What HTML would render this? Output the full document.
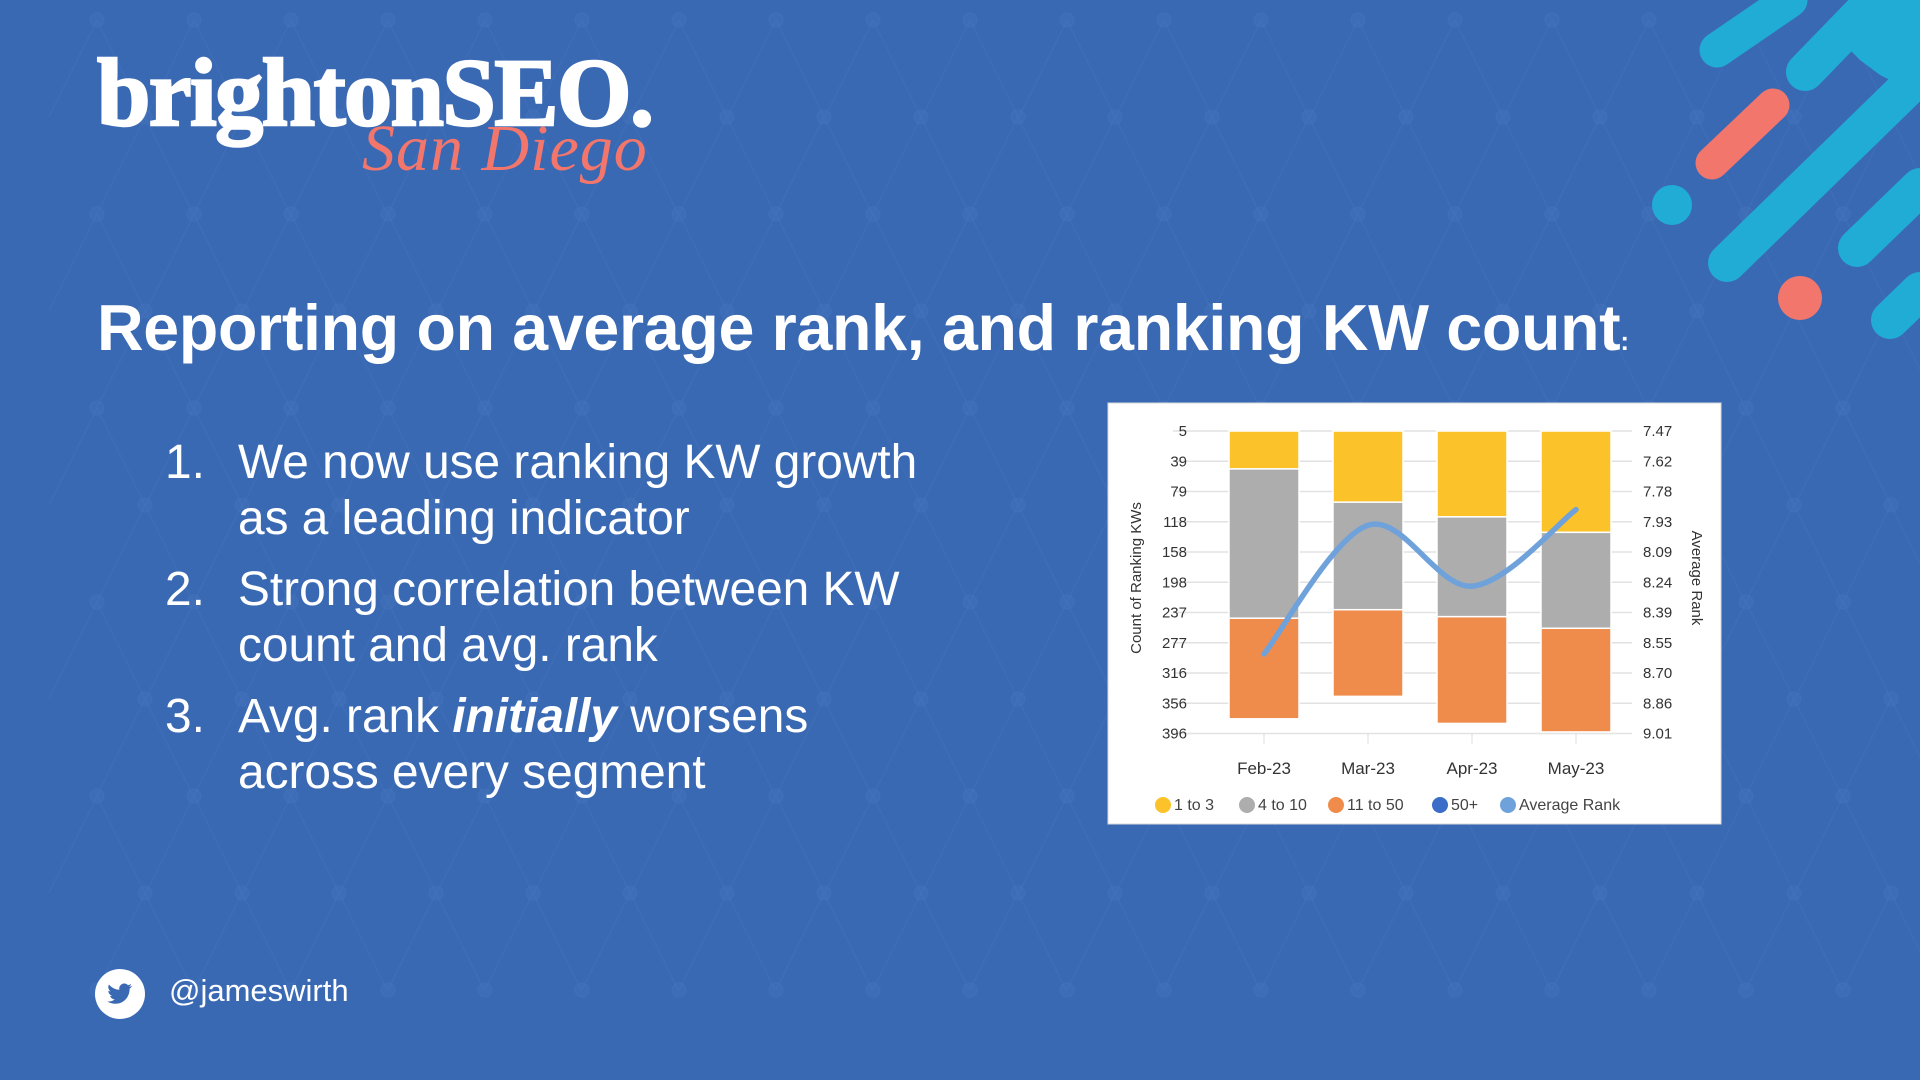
<!DOCTYPE html>
<html><head><meta charset="utf-8"><style>
html,body{margin:0;padding:0}
body{width:1920px;height:1080px;overflow:hidden;background:#3a69b4;position:relative;font-family:"Liberation Sans",sans-serif;color:#fff}
.abs{position:absolute}
#title{left:97px;top:291px;font-weight:bold;font-size:64.5px;white-space:nowrap;letter-spacing:-0.3px}
#title small{font-size:26px}
.li{position:absolute;left:165px;font-size:47.8px;line-height:56px;white-space:nowrap}
.li .n{position:absolute;left:0}
.li .t{position:absolute;left:73px}
</style></head><body>
<svg class="abs" style="left:0;top:0" width="1920" height="1080">
<g stroke="#5a86c6" stroke-opacity="0.15" stroke-width="1.5" fill="#5a86c6" fill-opacity="0.15" id="pat"></g>
<g stroke-linecap="round">
<line x1="1717" y1="50" x2="1790" y2="0" stroke="#21acd6" stroke-width="35"/>
<line x1="1805" y1="72" x2="1870" y2="5" stroke="#21acd6" stroke-width="38"/>
<polygon points="1850,0 1920,0 1920,95 1880,75 1860,60 1840,40" fill="#21acd6"/>
<line x1="1727" y1="263" x2="1920" y2="75" stroke="#21acd6" stroke-width="38"/>
<line x1="1857" y1="248" x2="1920" y2="187" stroke="#21acd6" stroke-width="38"/>
<line x1="1890" y1="320" x2="1920" y2="291" stroke="#21acd6" stroke-width="38"/>
<line x1="1712" y1="163" x2="1773" y2="105" stroke="#f2766b" stroke-width="33"/>
<circle cx="1672" cy="205" r="20" fill="#21acd6"/>
<circle cx="1800" cy="298" r="22" fill="#f2766b"/>
</g>
</svg>
<div class="abs" style="left:97px;top:38px;font-family:'Liberation Serif',serif;font-weight:bold;font-size:96px;letter-spacing:-1.5px;line-height:110px;-webkit-text-stroke:2.5px #fff">brightonSEO.</div>
<div class="abs" style="left:362px;top:104px;font-family:'Liberation Serif',serif;font-style:italic;font-size:66px;color:#f2766b;line-height:90px;letter-spacing:1px">San Diego</div>
<div id="title" class="abs">Reporting on average rank, and ranking KW count<small>:</small></div>
<div class="li" style="top:435px"><span class="n">1.</span><span class="t">We now use ranking KW growth<br>as a leading indicator</span></div>
<div class="li" style="top:562px"><span class="n">2.</span><span class="t">Strong correlation between KW<br>count and avg. rank</span></div>
<div class="li" style="top:689px"><span class="n">3.</span><span class="t">Avg. rank <b><i>initially</i></b> worsens<br>across every segment</span></div>
<svg class="abs" style="left:95px;top:969px" width="50" height="50"><circle cx="25" cy="25" r="25" fill="#fff"/><path d="M37 17c-1 .5-2 .7-3 .8 1-.6 1.8-1.6 2.2-2.8-1 .6-2 1-3.2 1.2a5 5 0 0 0-8.6 4.6c-4.2-.2-7.9-2.2-10.400-5.300-1.400 2.400-.6 5.400 1.600 6.800-.8 0-1.600-.2-2.300-.6 0 2.500 1.800 4.600 4.100 5.100-.8.200-1.500.200-2.300.100.600 2 2.500 3.500 4.700 3.500-2 1.600-4.500 2.400-7.300 2.100 2.200 1.400 4.900 2.300 7.700 2.300 9.300 0 14.400-7.700 14.400-14.400v-.7c1-.7 1.800-1.600 2.500-2.600z" fill="#3a69b4"/></svg>
<div class="abs" style="left:169px;top:973px;font-size:31px">@jameswirth</div>

<svg class="abs" style="left:0;top:0" width="1920" height="1080" id="chart"></svg>
<script>
const categories=["Feb-23","Mar-23","Apr-23","May-23"];
const top3=[49,92,111,131];
const top10=[193,139,129,124];
const top50=[130,112,138,134];
const over50=[0,0,0,0];
const avgRank=[8.605,7.95,8.26,7.87];
const leftTicks=["5","39","79","118","158","198","237","277","316","356","396"];
const rightTicks=["7.47","7.62","7.78","7.93","8.09","8.24","8.39","8.55","8.70","8.86","9.01"];
const NS="http://www.w3.org/2000/svg";
const svg=document.getElementById('chart');
function mk(t,a,p){const e=document.createElementNS(NS,t);for(const k in a)e.setAttribute(k,a[k]);(p||svg).appendChild(e);return e;}
const pat=document.getElementById('pat');
for(let r=0;r<11;r++)for(let c=1;c<20;c++){const x=c*97+(r%2?48:0),y=r*97+20;const d=mk('circle',{cx:x,cy:y,r:7},pat);
 if(r<10){const l1=mk('line',{x1:x,y1:y,x2:x+48,y2:y+97},pat);
 const l2=mk('line',{x1:x,y1:y,x2:x-48,y2:y+97},pat);}}
const box=mk('rect',{x:1108,y:403,width:613,height:421,fill:'#fff',stroke:'#d8d8d8'});

const X0=1212,BW=104,Y0=431,Y1=733.5;
const yL=v=>Y0+(v-5)/(396-5)*(Y1-Y0);
const yR=v=>Y0+(v-7.47)/(9.01-7.47)*(Y1-Y0);
const xC=i=>X0+BW*(i+0.5);
leftTicks.forEach((t,i)=>{const y=Y0+i*(Y1-Y0)/(leftTicks.length-1);
 const g=mk('line',{x1:1173,x2:1632,y1:y,y2:y,stroke:'#e2e2e2','stroke-width':1.5});
 const a=mk('text',{x:1187,y:y+5,'text-anchor':'end','font-size':15,fill:'#333'});a.textContent=t;
 const b=mk('text',{x:1643,y:y+5,'font-size':15,fill:'#333'});b.textContent=rightTicks[i];});
const series=[[top3,'#fcc22a','bar-1-to-3'],[top10,'#adadad','bar-4-to-10'],[top50,'#ef8c4c','bar-11-to-50'],[over50,'#3b6cc7','bar-50-plus']];
categories.forEach((c,i)=>{let acc=5;
 series.forEach(s=>{const v=s[0][i];if(v>0){const r=mk('rect',{x:xC(i)-35,y:yL(acc),width:70,height:yL(acc+v)-yL(acc),fill:s[1],stroke:'#fff','stroke-width':1.5});}acc+=v;});
 const tk=mk('line',{x1:xC(i),x2:xC(i),y1:Y1,y2:Y1+10,stroke:'#ddd'});
 const l=mk('text',{x:xC(i),y:774,'text-anchor':'middle','font-size':17,fill:'#333'});l.textContent=c;});
const pts=avgRank.map((v,i)=>[xC(i),yR(v)]);
let d='M'+pts[0][0]+','+pts[0][1];
for(let i=0;i<pts.length-1;i++){const p0=pts[Math.max(i-1,0)],p1=pts[i],p2=pts[i+1],p3=pts[Math.min(i+2,pts.length-1)];
 d+=` C${p1[0]+(p2[0]-p0[0])/6},${p1[1]+(p2[1]-p0[1])/6} ${p2[0]-(p3[0]-p1[0])/6},${p2[1]-(p3[1]-p1[1])/6} ${p2[0]},${p2[1]}`;}
const ln=mk('path',{d:d,fill:'none',stroke:'#6fa2da','stroke-width':5.5,'stroke-linecap':'round'});

const yt=mk('text',{x:0,y:0,'font-size':15,fill:'#333','text-anchor':'middle',transform:'translate(1141,578) rotate(-90)'});yt.textContent='Count of Ranking KWs';

const rt=mk('text',{x:0,y:0,'font-size':15,fill:'#333','text-anchor':'middle',transform:'translate(1692,578) rotate(90)'});rt.textContent='Average Rank';

const leg=[['1 to 3','#fcc22a',1163],['4 to 10','#adadad',1247],['11 to 50','#ef8c4c',1336],['50+','#3b6cc7',1440],['Average Rank','#6fa2da',1508]];
leg.forEach(e=>{const c=mk('circle',{cx:e[2],cy:805,r:8,fill:e[1]});
 const t=mk('text',{x:e[2]+11,y:810,'font-size':16,fill:'#444'});t.textContent=e[0];});
</script>
</body></html>
